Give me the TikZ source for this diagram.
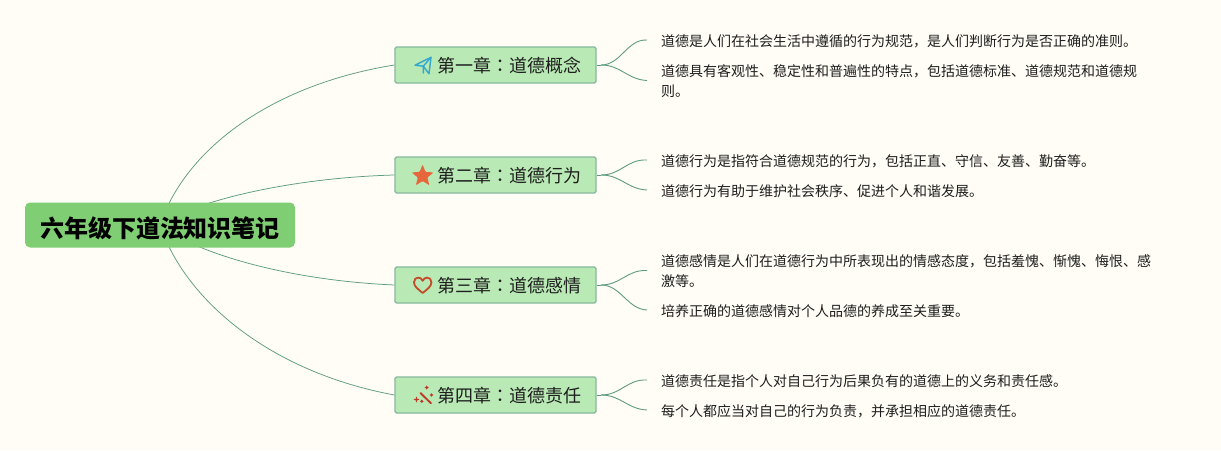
\documentclass[tikz,border=0pt]{standalone}
\usepackage{fontspec}
\setmainfont{Noto Sans CJK SC}
\newfontfamily\tcfont{Noto Sans CJK TC}
\usetikzlibrary{backgrounds,shapes.geometric}
\definecolor{pagebg}{HTML}{FFFDF5}
\definecolor{rootfill}{HTML}{80CE74}
\definecolor{branchfill}{HTML}{B9E9B4}
\definecolor{branchline}{HTML}{84B99C}
\definecolor{linkcol}{HTML}{5F9C82}
\definecolor{inkcol}{HTML}{1E1E1E}
\definecolor{planecol}{HTML}{35A7CF}
\definecolor{starcol}{HTML}{E8663C}
\definecolor{heartcol}{HTML}{C5492B}
\definecolor{wandcol}{HTML}{BE3A28}
\tikzset{
  rootbox/.style={fill=rootfill,rounded corners=5pt,minimum width=270pt,minimum height=45pt,inner sep=0pt,text=black,text height=24pt,text depth=0pt,font=\fontsize{24}{28}\selectfont\bfseries},
  branchbox/.style={fill=branchfill,draw=branchline,line width=1.2pt,rounded corners=1.5pt,minimum width=201pt,minimum height=36pt,inner sep=0pt,text=inkcol,text height=16.6pt,text depth=1pt,font=\fontsize{18}{22}\selectfont},
  leaftext/.style={anchor=west,inner xsep=14pt,inner ysep=0pt,align=left,text=inkcol,font=\fontsize{14}{20}\selectfont},
  biglink/.style={draw=linkcol,line width=0.75pt},
  smalllink/.style={draw=linkcol,line width=0.9pt},
  planeicon/.style={draw=planecol,line width=1.4pt,line join=round,line cap=round},
  staricon/.style={star,star points=5,star point ratio=2.3,fill=starcol,minimum size=23pt,inner sep=0pt,rounded corners=1pt},
  hearticon/.style={draw=heartcol,line width=1.8pt,line join=round},
  wandicon/.style={draw=wandcol,line width=1.9pt,line cap=round},
  sparkicon/.style={fill=wandcol},
}
\newcommand{\chaptitle}[2]{\hspace*{27pt}#1{\tcfont ：}#2}
\newcommand{\sparkle}[3]{\fill[sparkicon] (#1-#3,#2) -- (#1-0.8,#2-0.8) -- (#1,#2-#3) -- (#1+0.8,#2-0.8) -- (#1+#3,#2) -- (#1+0.8,#2+0.8) -- (#1,#2+#3) -- (#1-0.8,#2+0.8) -- cycle;}
\begin{document}
\begin{tikzpicture}[x=1pt,y=-1pt]
\useasboundingbox (0,0) rectangle (1221,450);
\node[rootbox] (root) at (160,225) {六年级下道法知识笔记};
\node[branchbox] (b1) at (495.5,65) {\chaptitle{第一章}{道德概念}};
\node[branchbox] (b2) at (495.5,175) {\chaptitle{第二章}{道德行为}};
\node[branchbox] (b3) at (495.5,285) {\chaptitle{第三章}{道德感情}};
\node[branchbox] (b4) at (495.5,395) {\chaptitle{第四章}{道德责任}};
\coordinate (f1) at (601,65);
\coordinate (f2) at (601,175);
\coordinate (f3) at (601,285);
\coordinate (f4) at (601,395);
\node[leaftext] (l1a) at (647,41) {道德是人们在社会生活中遵循的行为规范，是人们判断行为是否正确的准则。};
\node[leaftext] (l1b) at (647,81.5) {道德具有客观性、稳定性和普遍性的特点，包括道德标准、道德规范和道德规\\则。};
\node[leaftext] (l2a) at (647,161) {道德行为是指符合道德规范的行为，包括正直、守信、友善、勤奋等。};
\node[leaftext] (l2b) at (647,191) {道德行为有助于维护社会秩序、促进个人和谐发展。};
\node[leaftext] (l3a) at (647,271.5) {道德感情是人们在道德行为中所表现出的情感态度，包括羞愧、惭愧、悔恨、感\\激等。};
\node[leaftext] (l3b) at (647,311) {培养正确的道德感情对个人品德的养成至关重要。};
\node[leaftext] (l4a) at (647,381) {道德责任是指个人对自己行为后果负有的道德上的义务和责任感。};
\node[leaftext] (l4b) at (647,411) {每个人都应当对自己的行为负责，并承担相应的道德责任。};
\begin{scope}[on background layer]
\fill[pagebg] (0,0) rectangle (1221,450);
\draw[biglink] (root.center) .. controls (185,150) and (270,85) .. (b1.west);
\draw[biglink] (root.center) .. controls (190,203) and (285,178) .. (b2.west);
\draw[biglink] (root.center) .. controls (190,250) and (280,280) .. (b3.west);
\draw[biglink] (root.center) .. controls (185,300) and (270,372) .. (b4.west);
\foreach \b/\f/\u/\d in {b1/f1/l1a/l1b,b2/f2/l2a/l2b,b3/f3/l3a/l3b,b4/f4/l4a/l4b}{
  \draw[smalllink] (\b.east) -- (\f);
  \draw[smalllink] (\f) .. controls +(20,0) and +(-20,-1) .. ([yshift=1pt]\u.west);
  \draw[smalllink] (\f) .. controls +(20,0) and +(-20,-1) .. ([yshift=1pt]\d.west);
}
\end{scope}
% icons
\draw[planeicon] (415,65.2) -- (431,57.3) -- (429,73.8) -- (423.3,66.2) -- (415,65.2);
\draw[planeicon] (431,57.3) -- (423.3,66.2) -- (423.3,73);
\node[staricon] (staricon2) at (422.6,176) {};
\draw[hearticon] (422.7,293) .. controls (418,289) and (414,286.5) .. (414,282.3)
  .. controls (414,279.2) and (416,277.6) .. (418.2,277.6)
  .. controls (420.2,277.6) and (421.8,278.8) .. (422.7,280.8)
  .. controls (423.6,278.8) and (425.2,277.6) .. (427.2,277.6)
  .. controls (429.4,277.6) and (431.4,279.2) .. (431.4,282.3)
  .. controls (431.4,286.5) and (427.4,289) .. (422.7,293) -- cycle;
\draw[wandicon] (420.5,393) -- (431,403.3);
\sparkle{426.7}{387.5}{2.2}
\sparkle{431.5}{395}{1.8}
\sparkle{416.5}{399.5}{3}
\sparkle{421.8}{401.3}{1.8}
\end{tikzpicture}
\end{document}
